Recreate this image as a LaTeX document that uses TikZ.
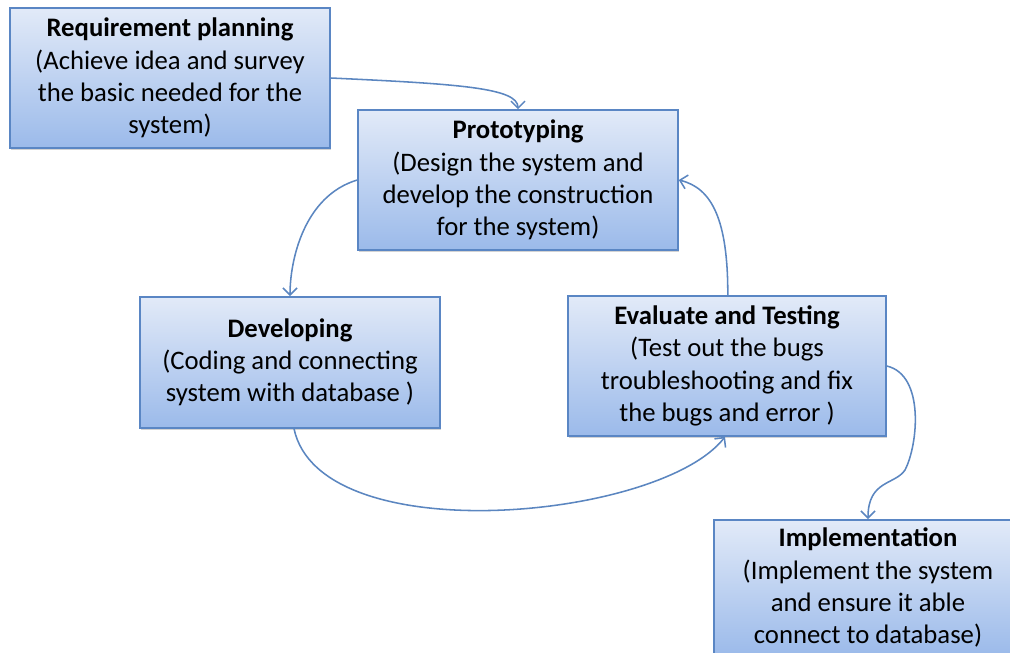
\documentclass[tikz,border=0pt]{standalone}
\usepackage{fontspec}
\setmainfont{Carlito}
\usetikzlibrary{arrows.meta,shadows}
\begin{document}
\begin{tikzpicture}[phase/.style={rectangle,draw=frame,line width=1.1pt,top color=boxtop,bottom color=boxbot,
  drop shadow={shadow xshift=0.6pt,shadow yshift=-1.6pt,opacity=0.35},align=center,
  font=\fontsize{19}{23}\selectfont,minimum height=3.5cm},
  flow/.style={draw=line,line width=1.1pt,-{Straight Barb[length=5pt,width=10pt]}}]
\definecolor{frame}{HTML}{5A86C4}
\definecolor{boxtop}{HTML}{E2EAF8}
\definecolor{boxbot}{HTML}{9BBAEA}
\definecolor{line}{HTML}{5B86C0}
\useasboundingbox (0,0) rectangle (25.25,-16.3);
\node [phase,minimum width=8cm] (req) at (4.25,-1.95) {\textbf{Requirement planning}\\(Achieve idea and survey\\the basic needed for the\\system)};
\node [phase,minimum width=8cm] (proto) at (12.95,-4.5) {\textbf{Prototyping}\\(Design the system and\\develop the construction\\for the system)};
\node [phase,minimum width=7.5cm,minimum height=3.275cm] (dev) at (7.25,-9.06) {\textbf{Developing}\\(Coding and connecting\\system with database )};
\node [phase,minimum width=7.95cm] (eval) at (18.175,-9.15) {\textbf{Evaluate and Testing}\\(Test out the bugs\\troubleshooting and fix\\the bugs and error )};
\node [phase,minimum width=7.7cm,minimum height=3.4cm,anchor=north] (impl) at (21.7,-12.975) {\textbf{Implementation}\\(Implement the system\\and ensure it able\\connect to database)};
% connectors
\draw [flow] (req.east) .. controls (11.5,-2.1) and (12.95,-2.2) .. (proto.north);
\draw [flow] (proto.west) .. controls (7.6,-4.9) and (7.25,-6.5) .. (dev.north);
\draw [flow] ([xshift=0.1cm]dev.south) .. controls (8,-13.8) and (16.5,-13) .. ([xshift=-0.05cm]eval.south);
\draw [flow] ([xshift=0.02cm]eval.north) .. controls (18.2,-5.5) and (17.8,-4.7) .. (proto.east);
\draw [flow] (eval.east) .. controls (23.125,-9.375) and (22.95,-11.125) .. (22.625,-11.75)
  .. controls (22.375,-12.125) and (21.7,-12) .. (impl.north);
\end{tikzpicture}
\end{document}
